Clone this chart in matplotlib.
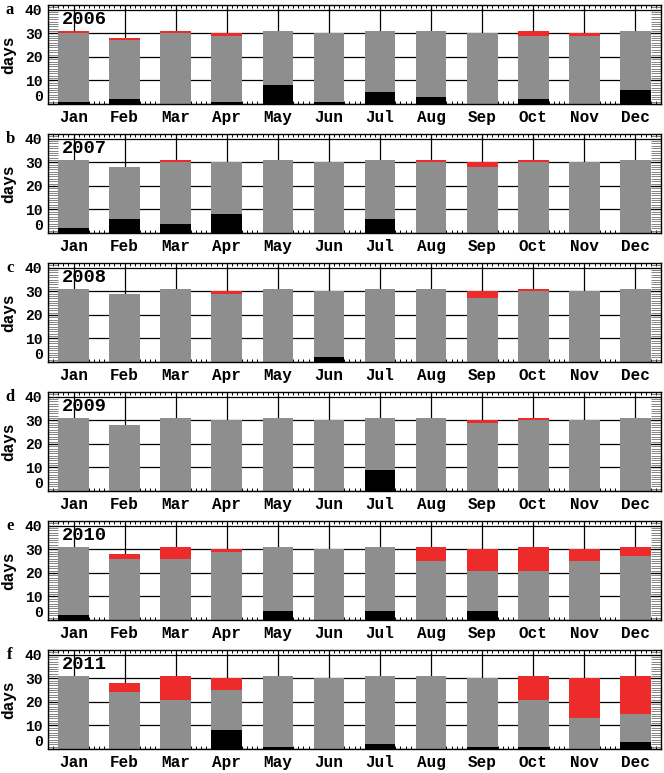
import numpy as np
import matplotlib
matplotlib.use('Agg')
import matplotlib.pyplot as plt
from matplotlib.ticker import MultipleLocator

months = ['Jan', 'Feb', 'Mar', 'Apr', 'May', 'Jun',
          'Jul', 'Aug', 'Sep', 'Oct', 'Nov', 'Dec']
years = ['2006', '2007', '2008', '2009', '2010', '2011']
letters = ['a', 'b', 'c', 'd', 'e', 'f']

# days in each month (bar totals)
days_2006 = [31, 28, 31, 30, 31, 30, 31, 31, 30, 31, 30, 31]
days_2007 = [31, 28, 31, 30, 31, 30, 31, 31, 30, 31, 30, 31]
days_2008 = [31, 29, 31, 30, 31, 30, 31, 31, 30, 31, 30, 31]
days_2009 = [31, 28, 31, 30, 31, 30, 31, 31, 30, 31, 30, 31]
days_2010 = [31, 28, 31, 30, 31, 30, 31, 31, 30, 31, 30, 31]
days_2011 = [31, 28, 31, 30, 31, 30, 31, 31, 30, 31, 30, 31]

# black part (bottom)
black_2006 = [1, 2, 0, 1, 8, 1, 5, 3, 0, 2, 0, 6]
black_2007 = [2, 6, 4, 8, 0, 0, 6, 0, 0, 0, 0, 0]
black_2008 = [0, 0, 0, 0, 0, 2, 0, 0, 0, 0, 0, 0]
black_2009 = [0, 0, 0, 0, 0, 0, 9, 0, 0, 0, 0, 0]
black_2010 = [2, 0, 0, 0, 4, 0, 4, 0, 4, 0, 0, 0]
black_2011 = [0, 0, 0, 8, 1, 0, 2, 0, 1, 1, 0, 3]

# red part (top)
red_2006 = [1, 1, 1, 1, 0, 0, 0, 0, 0, 2, 1, 0]
red_2007 = [0, 0, 1, 0, 0, 0, 0, 1, 2, 1, 0, 0]
red_2008 = [0, 0, 0, 1, 0, 0, 0, 0, 3, 1, 0, 0]
red_2009 = [0, 0, 0, 0, 0, 0, 0, 0, 1, 1, 0, 0]
red_2010 = [0, 2, 5, 1, 0, 0, 0, 6, 9, 10, 5, 4]
red_2011 = [0, 4, 10, 5, 0, 0, 0, 0, 0, 10, 17, 16]

days = [days_2006, days_2007, days_2008, days_2009, days_2010, days_2011]
blacks = [black_2006, black_2007, black_2008, black_2009, black_2010, black_2011]
reds = [red_2006, red_2007, red_2008, red_2009, red_2010, red_2011]

W, H = 664, 773
fig = plt.figure(figsize=(W / 100, H / 100), dpi=100)

mono = 'Liberation Mono'
serif = 'Liberation Serif'
grey = '#8e8e8e'
red = '#ee2b2b'

left, right = 48, 661
tops = [5, 134, 263, 392, 521, 650]
ph = 99

x = np.arange(12)
for i in range(6):
    top = tops[i]
    ax = fig.add_axes([left / W, 1 - (top + ph) / H, (right - left) / W, ph / H])
    ax.set_axisbelow(True)

    blk = np.array(blacks[i])
    rd = np.array(reds[i])
    gr = np.array(days[i]) - blk - rd
    ax.bar(x, blk, width=0.6, color='black', zorder=2)
    ax.bar(x, gr, width=0.6, bottom=blk, color=grey, zorder=2)
    ax.bar(x, rd, width=0.6, bottom=blk + gr, color=red, zorder=2)

    ax.set_xlim(-0.5, 11.5)
    ax.set_ylim(0, 42)
    ax.set_yticks([0, 10, 20, 30, 40])
    ax.set_xticks(x)
    ax.set_xticklabels(months, fontfamily=mono, fontweight='bold', fontsize=11.5)
    ax.yaxis.set_minor_locator(MultipleLocator(1))
    ax.xaxis.set_minor_locator(MultipleLocator(0.1))
    ax.grid(True, which='major', color='black', linewidth=0.9)

    ax.tick_params(axis='x', which='major', length=0, pad=4)
    ax.tick_params(axis='x', which='minor', direction='in', length=2,
                   width=0.7, top=True, bottom=True)
    ax.tick_params(axis='y', which='major', direction='in', length=8,
                   width=0.8, left=True, right=True, pad=4)
    ax.tick_params(axis='y', which='minor', direction='in', length=7,
                   width=0.5, left=True, right=True, color='#555555')
    for lab in ax.get_yticklabels():
        lab.set_fontfamily(mono)
        lab.set_fontweight('bold')
        lab.set_fontsize(10.5)
    ax.get_yticklabels()[0].set_va('bottom')

    for sp in ax.spines.values():
        sp.set_linewidth(1.0)

    ax.text(0.022, 0.85, years[i], transform=ax.transAxes, fontfamily=mono,
            fontsize=13.5, fontweight='bold', ha='left', va='center')

    fig.text(10 / W, 1 - (top + 5) / H, letters[i], fontfamily=serif,
             fontweight='bold', fontsize=12, ha='center', va='center')
    fig.text(9 / W, 1 - (top + ph / 2) / H, 'days', rotation=90,
             fontfamily=mono, fontweight='bold', fontsize=11.5,
             ha='center', va='center')

fig.savefig('out.png', dpi=100)
